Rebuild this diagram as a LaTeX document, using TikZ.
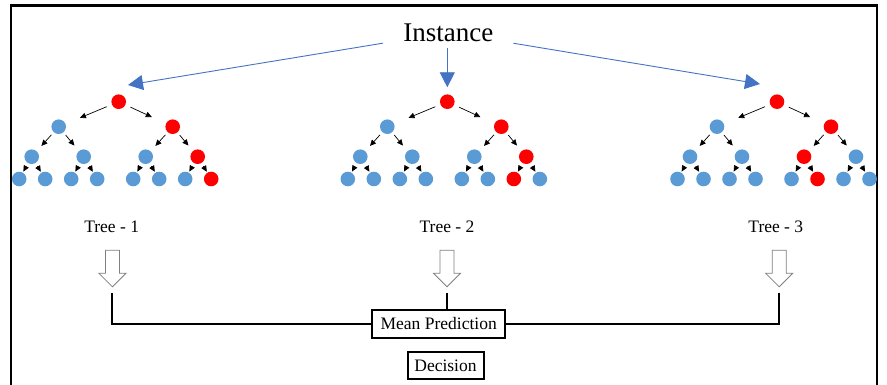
\documentclass[tikz,border=0pt]{standalone}
\usepackage{fontspec}
\setmainfont{Liberation Serif}
\usetikzlibrary{arrows.meta,calc,shapes.arrows}
\definecolor{nblue}{RGB}{91,155,213}
\definecolor{nred}{RGB}{255,0,0}
\definecolor{iblue}{RGB}{68,114,196}
\definecolor{agray}{RGB}{128,128,128}

\tikzset{
  nd/.style={circle,fill=nblue,minimum size=14.6pt,inner sep=0pt},
  hot/.style={fill=nred},
  % decision path of each tree
  a-0/.style=hot, a-R/.style=hot, a-RR/.style=hot, a-RRR/.style=hot,
  b-0/.style=hot, b-R/.style=hot, b-RR/.style=hot, b-RRL/.style=hot,
  c-0/.style=hot, c-R/.style=hot, c-RL/.style=hot, c-RLR/.style=hot,
  edge/.style={line width=0.7pt,-{Triangle[length=6pt,width=5.5pt]}},
  e1/.style={edge,shorten <=5.5pt,shorten >=15.5pt},
  e2/.style={edge,shorten <=3.4pt,shorten >=7pt},
  e3/.style={edge,shorten <=3.5pt,shorten >=1pt},
  iarr/.style={draw=iblue,line width=0.9pt,-{Triangle[length=15pt,width=15pt]}},
  lbl/.style={font=\fontsize{17.5}{21}\selectfont,inner sep=0pt},
  box/.style={draw,line width=2pt,fill=white,inner sep=0pt,font=\fontsize{17.5}{21}\selectfont},
  barr/.style={single arrow,draw=agray,fill=white,line width=0.8pt,shape border rotate=270,
    minimum height=36.6pt,inner sep=6.6pt,single arrow head extend=6.5pt},
  bracket/.style={line width=2pt},
}

% one binary tree of depth 3; #1 = name prefix, #2 = x of the root
\newcommand\ftree[2]{%
  \node[nd,#1-0/.try] (#1-0) at (#2,101.7) {};
  \node[nd,#1-L/.try] (#1-L) at ($(#1-0)+(-60,25)$) {};
  \node[nd,#1-R/.try] (#1-R) at ($(#1-0)+(54,25)$) {};
  \node[nd,#1-LL/.try] (#1-LL) at ($(#1-L)+(-27,30)$) {};
  \node[nd,#1-LR/.try] (#1-LR) at ($(#1-L)+(25,30)$) {};
  \node[nd,#1-RL/.try] (#1-RL) at ($(#1-R)+(-27,30)$) {};
  \node[nd,#1-RR/.try] (#1-RR) at ($(#1-R)+(25,30)$) {};
  \node[nd,#1-LLL/.try] (#1-LLL) at ($(#1-LL)+(-12.5,22.3)$) {};
  \node[nd,#1-LLR/.try] (#1-LLR) at ($(#1-LL)+(13.5,22.3)$) {};
  \node[nd,#1-LRL/.try] (#1-LRL) at ($(#1-LR)+(-12.5,22.3)$) {};
  \node[nd,#1-LRR/.try] (#1-LRR) at ($(#1-LR)+(13.5,22.3)$) {};
  \node[nd,#1-RLL/.try] (#1-RLL) at ($(#1-RL)+(-12.5,22.3)$) {};
  \node[nd,#1-RLR/.try] (#1-RLR) at ($(#1-RL)+(13.5,22.3)$) {};
  \node[nd,#1-RRL/.try] (#1-RRL) at ($(#1-RR)+(-12.5,22.3)$) {};
  \node[nd,#1-RRR/.try] (#1-RRR) at ($(#1-RR)+(13.5,22.3)$) {};
  \draw[e1] (#1-0) -- (#1-L);
  \draw[e1] (#1-0) -- (#1-R);
  \draw[e2] (#1-L) -- (#1-LL);
  \draw[e2] (#1-L) -- (#1-LR);
  \draw[e2] (#1-R) -- (#1-RL);
  \draw[e2] (#1-R) -- (#1-RR);
  \draw[e3] (#1-LL) -- (#1-LLL);
  \draw[e3] (#1-LL) -- (#1-LLR);
  \draw[e3] (#1-LR) -- (#1-LRL);
  \draw[e3] (#1-LR) -- (#1-LRR);
  \draw[e3] (#1-RL) -- (#1-RLL);
  \draw[e3] (#1-RL) -- (#1-RLR);
  \draw[e3] (#1-RR) -- (#1-RRL);
  \draw[e3] (#1-RR) -- (#1-RRR);
}

\begin{document}
\begin{tikzpicture}[x=1pt,y=-1pt]
  \useasboundingbox (0,0) rectangle (887,385);
  % frame
  \draw[line width=2.2pt] (11,390) -- (11,5.5) -- (877,5.5) -- (877,390);

  % instance and its three routes
  \node[font=\fontsize{27}{32}\selectfont,inner xsep=20pt,inner ysep=6.5pt] (inst) at (448.3,32.5) {Instance};
  \coordinate (pa) at (128,85);
  \coordinate (pb) at (447.3,87.3);
  \coordinate (pc) at (760,84);
  \draw[iarr] (inst) -- (pa);
  \draw[iarr] (inst.south -| pb) -- (pb);
  \draw[iarr] (inst) -- (pc);

  % the forest
  \ftree{a}{118.7}
  \ftree{b}{447.3}
  \ftree{c}{777}

  % tree labels
  \node[lbl,anchor=base] (l1) at (111.7,232.3) {Tree - 1};
  \node[lbl,anchor=base] (l2) at (447,232.3) {Tree - 2};
  \node[lbl,anchor=base] (l3) at (775.8,232.3) {Tree - 3};

  % hollow arrows
  \node[barr] (ba1) at (112.4,265) {};
  \node[barr] (ba2) at (447,265) {};
  \node[barr] (ba3) at (779.2,265) {};

  % aggregation
  \node[box,minimum width=132.5pt,minimum height=28pt] (mp) at (438.7,323.7) {Mean Prediction};
  \node[box,minimum width=76pt,minimum height=27pt] (dec) at (445.5,365.9) {Decision};
  \coordinate (j1) at (111.7,292.7);
  \coordinate (j2) at (446.7,292.7);
  \coordinate (j3) at (779,292.7);
  \draw[bracket] (j1) |- (mp.west);
  \draw[bracket] (j3) |- (mp.east);
  \draw[bracket] (mp.north -| j2) -- (j2);
\end{tikzpicture}
\end{document}
